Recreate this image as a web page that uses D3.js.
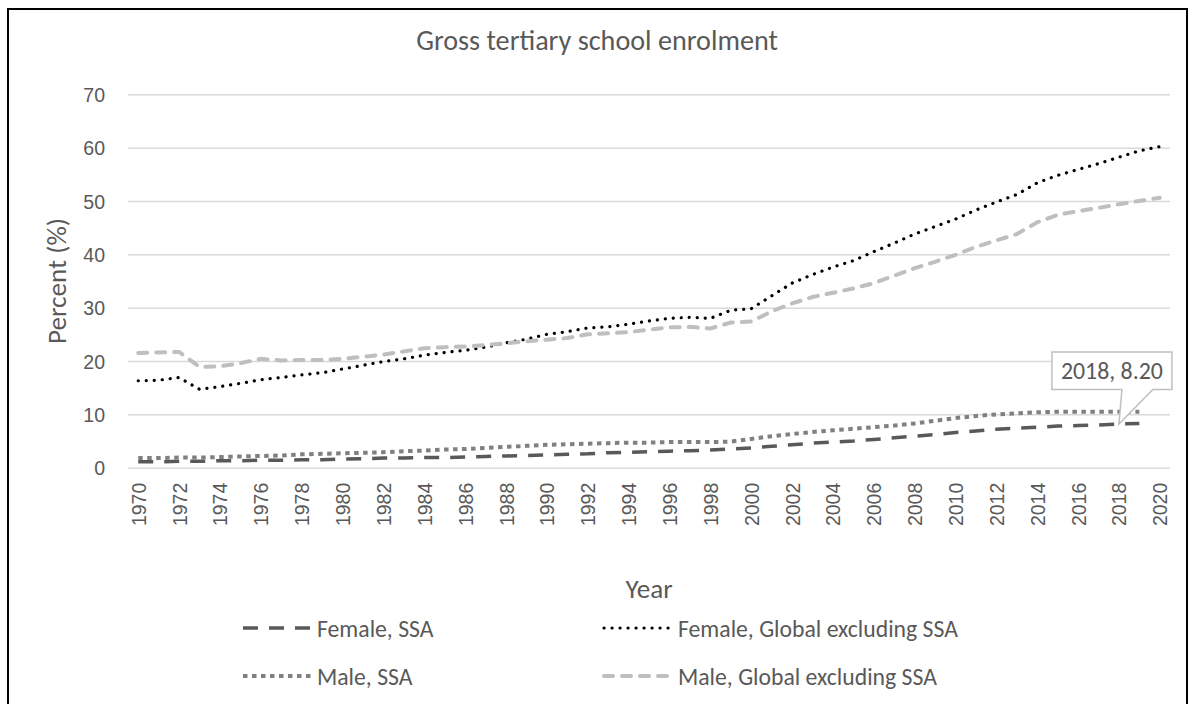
<!DOCTYPE html>
<html>
<head>
<meta charset="utf-8">
<script src="https://cdn.jsdelivr.net/npm/d3@7"></script>
<style>
  html, body { margin: 0; padding: 0; background: #fff; }
  svg { display: block; font-family: Calibri, Carlito, Lato, sans-serif; }
  .frame { fill: none; stroke: #000; stroke-width: 2; }
  .grid line { stroke: #d9d9d9; stroke-width: 1.5; }
  .grid .domain { display: none; }
  .tick text { fill: #595959; font-size: 19.5px; }
  .chart-title { fill: #595959; font-size: 24px; }
  .axis-title { fill: #595959; font-size: 22px; }
  .legend text { fill: #595959; font-size: 22px; }
  .series { fill: none; }
  .female-ssa { stroke: #595959; stroke-width: 3.5; stroke-dasharray: 15 11; }
  .female-global { stroke: #000; stroke-width: 3.2; stroke-dasharray: 0.1 7.9; stroke-linecap: round; }
  .male-ssa { stroke: #808080; stroke-width: 4; stroke-dasharray: 4.5 4.5; }
  .male-global { stroke: #bfbfbf; stroke-width: 4; stroke-dasharray: 9 9; stroke-linecap: round; }
  .callout path { fill: #fff; stroke: #bfbfbf; stroke-width: 1.5; }
  .callout text { fill: #595959; font-size: 22px; }
</style>
</head>
<body>
<div id="chart"></div>
<script>
const years = [
  1970, 1971, 1972, 1973, 1974, 1975, 1976, 1977, 1978, 1979,
  1980, 1981, 1982, 1983, 1984, 1985, 1986, 1987, 1988, 1989,
  1990, 1991, 1992, 1993, 1994, 1995, 1996, 1997, 1998, 1999,
  2000, 2001, 2002, 2003, 2004, 2005, 2006, 2007, 2008, 2009,
  2010, 2011, 2012, 2013, 2014, 2015, 2016, 2017, 2018, 2019,
  2020
];

const femaleSSA = [
  1.1, 1.1, 1.2, 1.2, 1.3, 1.3, 1.4, 1.4, 1.5, 1.5,
  1.6, 1.7, 1.8, 1.8, 1.9, 1.9, 2.0, 2.1, 2.2, 2.3,
  2.4, 2.5, 2.6, 2.8, 2.9, 3.0, 3.1, 3.2, 3.3, 3.5,
  3.7, 4.0, 4.3, 4.6, 4.8, 5.0, 5.3, 5.6, 5.9, 6.2,
  6.6, 6.9, 7.2, 7.4, 7.6, 7.8, 7.9, 8.0, 8.2, 8.3,
  null
];

const femaleGlobal = [
  16.3, 16.4, 16.9, 14.7, 15.2, 15.8, 16.5, 16.9, 17.4, 17.8,
  18.5, 19.2, 19.9, 20.4, 21.1, 21.6, 22.0, 22.6, 23.4, 24.1,
  25.0, 25.5, 26.2, 26.4, 26.9, 27.5, 28.0, 28.2, 28.0, 29.5,
  29.8, 32.2, 34.6, 36.2, 37.6, 38.8, 40.5, 42.1, 43.8, 45.2,
  46.6, 48.3, 49.8, 51.2, 53.4, 54.8, 55.9, 57.0, 58.2, 59.4,
  60.2
];

const maleSSA = [
  1.8, 1.8, 1.9, 1.9, 2.0, 2.1, 2.2, 2.3, 2.5, 2.6,
  2.7, 2.8, 2.9, 3.1, 3.2, 3.4, 3.5, 3.7, 3.9, 4.1,
  4.3, 4.4, 4.5, 4.6, 4.7, 4.7, 4.8, 4.8, 4.8, 4.9,
  5.4, 5.9, 6.3, 6.7, 7.0, 7.3, 7.6, 7.9, 8.3, 8.8,
  9.3, 9.7, 10.0, 10.2, 10.4, 10.5, 10.5, 10.5, 10.5, 10.5,
  null
];

const maleGlobal = [
  21.5, 21.6, 21.7, 18.9, 19.0, 19.6, 20.4, 20.1, 20.2, 20.2,
  20.4, 20.8, 21.2, 21.8, 22.4, 22.6, 22.7, 23.0, 23.3, 23.7,
  24.0, 24.3, 25.0, 25.2, 25.4, 25.9, 26.3, 26.4, 26.1, 27.2,
  27.4, 29.3, 30.8, 32.0, 32.8, 33.6, 34.6, 36.0, 37.4, 38.6,
  39.9, 41.4, 42.6, 43.8, 46.0, 47.4, 48.1, 48.7, 49.4, 50.0,
  50.6
];

const seriesNames = [
  'Female, SSA',
  'Female, Global excluding SSA',
  'Male, SSA',
  'Male, Global excluding SSA'
];
const seriesClasses = ['female-ssa', 'female-global', 'male-ssa', 'male-global'];
const seriesValues = [femaleSSA, femaleGlobal, maleSSA, maleGlobal];

const yTicks = [0, 10, 20, 30, 40, 50, 60, 70];
const xTickYears = years.filter(y => y % 2 === 0);

const calloutYear = 2018;

// scale a text's font so that its rendered width hits the measured width
function fitWidth(sel, target) {
  const node = sel.node();
  const size = parseFloat(getComputedStyle(node).fontSize);
  return size * target / node.getComputedTextLength();
}

class EnrolmentChart {
  constructor({ parent }) {
    this.parent = parent;
    this.width = 1194;
    this.height = 704;
    this.margin = { top: 94.3, right: 24, bottom: 236.3, left: 128 };
    this.series = seriesNames.map((name, i) => ({
      name,
      cls: seriesClasses[i],
      points: years.map((year, j) => ({ year, value: seriesValues[i][j] }))
    }));
    this.initVis();
  }

  initVis() {
    const w = this.width - this.margin.left - this.margin.right;
    const h = this.height - this.margin.top - this.margin.bottom;

    this.svg = d3.select(this.parent)
      .append('svg')
      .attr('width', this.width)
      .attr('height', this.height);

    this.svg.append('rect')
      .attr('class', 'frame')
      .attr('x', 8)
      .attr('y', 9)
      .attr('width', 1179)
      .attr('height', 710);

    const title = this.svg.append('text')
      .attr('class', 'chart-title')
      .attr('x', 597)
      .attr('y', 50)
      .attr('text-anchor', 'middle')
      .text('Gross tertiary school enrolment');
    title.style('font-size', `${fitWidth(title, 362)}px`);

    const g = this.svg.append('g')
      .attr('transform', `translate(${this.margin.left},${this.margin.top})`);

    this.x = d3.scalePoint().domain(years).range([0, w]).padding(0.5);
    this.y = d3.scaleLinear().domain([0, 70]).range([h, 0]);

    g.append('g')
      .attr('class', 'grid')
      .call(d3.axisLeft(this.y).tickValues(yTicks).tickSize(-w).tickPadding(23))
      .call(s => s.selectAll('.tick text').attr('dy', '0.36em'));

    g.append('g')
      .attr('class', 'grid x-axis')
      .attr('transform', `translate(0,${h})`)
      .call(d3.axisBottom(this.x).tickValues(xTickYears).tickSize(0).tickPadding(0))
      .call(s => s.selectAll('.tick text')
        .attr('transform', 'rotate(-90)')
        .attr('text-anchor', 'end')
        .attr('x', -15)
        .attr('y', 0)
        .attr('dy', '0.36em'));

    const yTitle = this.svg.append('text')
      .attr('class', 'axis-title')
      .attr('transform', `translate(66,${this.margin.top + h / 2}) rotate(-90)`)
      .attr('text-anchor', 'middle')
      .text('Percent (%)');
    const axisSize = fitWidth(yTitle, 126);
    yTitle.style('font-size', `${axisSize}px`);

    this.svg.append('text')
      .attr('class', 'axis-title')
      .attr('x', this.margin.left + w / 2)
      .attr('y', 598)
      .attr('text-anchor', 'middle')
      .style('font-size', `${axisSize}px`)
      .text('Year');

    const line = d3.line()
      .defined(d => d.value != null)
      .x(d => this.x(d.year))
      .y(d => this.y(d.value));

    g.selectAll('.series')
      .data(this.series)
      .join('path')
      .attr('class', d => `series ${d.cls}`)
      .attr('d', d => line(d.points));

    this.drawCallout(g);
    this.drawLegend();
  }

  drawCallout(g) {
    const idx = years.indexOf(calloutYear);
    const value = femaleSSA[idx];
    const px = this.x(calloutYear);
    const py = this.y(value);

    const left = px - 67, right = px + 53, top = py - 72, bottom = py - 34.5;
    const callout = g.append('g').attr('class', 'callout');

    callout.append('path')
      .attr('d', [
        `M${left},${top}`, `H${right}`, `V${bottom}`,
        `H${px + 34}`, `L${px},${py}`, `L${px + 3},${bottom}`,
        `H${left}`, 'Z'
      ].join(''));

    const label = callout.append('text')
      .attr('x', (left + right) / 2)
      .attr('y', (top + bottom) / 2)
      .attr('dy', '0.36em')
      .attr('text-anchor', 'middle')
      .text(`${calloutYear}, ${value.toFixed(2)}`);
    label.style('font-size', `${fitWidth(label, 102)}px`);
  }

  drawLegend() {
    const colX = [243, 604];
    const rowY = [628, 676];
    const swatch = 70;

    const items = this.svg.append('g')
      .attr('class', 'legend')
      .selectAll('g')
      .data(this.series)
      .join('g')
      .attr('transform', (d, i) => `translate(${colX[i % 2]},${rowY[Math.floor(i / 2)]})`);

    items.append('line')
      .attr('class', d => `series ${d.cls}`)
      .attr('x1', 0)
      .attr('x2', swatch);

    const labels = items.append('text')
      .attr('x', swatch + 4)
      .attr('dy', '0.36em')
      .text(d => d.name);

    const size = fitWidth(labels.filter((d, i) => i === 1), 280);
    labels.style('font-size', `${size}px`);
  }
}

new EnrolmentChart({ parent: '#chart' });
</script>
</body>
</html>
